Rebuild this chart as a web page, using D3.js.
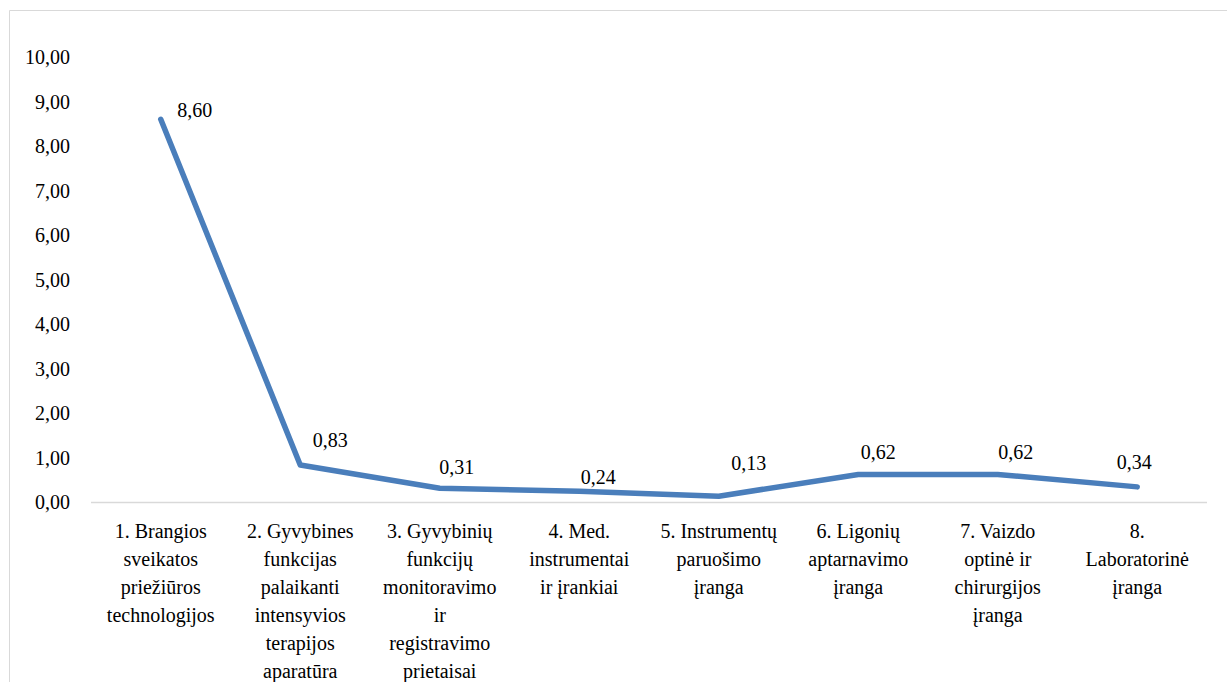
<!DOCTYPE html>
<html><head><meta charset="utf-8">
<script src="https://cdn.jsdelivr.net/npm/d3@7"></script>
</head><body style="margin:0;background:#fff"><svg id="c" width="1227" height="682"></svg>
<script>
const categories = [
  ["1. Brangios","sveikatos","priežiūros","technologijos"],
  ["2. Gyvybines","funkcijas","palaikanti","intensyvios","terapijos","aparatūra"],
  ["3. Gyvybinių","funkcijų","monitoravimo","ir","registravimo","prietaisai"],
  ["4. Med.","instrumentai","ir įrankiai"],
  ["5. Instrumentų","paruošimo","įranga"],
  ["6. Ligonių","aptarnavimo","įranga"],
  ["7. Vaizdo","optinė ir","chirurgijos","įranga"],
  ["8.","Laboratorinė","įranga"]
];
const values = [8.60, 0.83, 0.31, 0.24, 0.13, 0.62, 0.62, 0.34];
const yTicks = [0,1,2,3,4,5,6,7,8,9,10];
const labelDx = [34, 30, 17, 19, 30, 20, 18, -3];
const labelDy = [-9, -25, -21, -14, -33, -22, -22, -25];

const FONT = "Times New Roman";
const FS = 20;
const svg = d3.select("#c");
const fmt = v => v.toFixed(2).replace(".", ",");
const x = d3.scaleBand().domain(d3.range(categories.length)).range([91, 1207]);
const y = d3.scaleLinear().domain([0, 10]).range([502, 57]);

svg.append("path").attr("d","M9.5,682 V10.5 H1227").attr("fill","none").attr("stroke","#d9d9d9").attr("stroke-width",1);

svg.append("g").selectAll("text").data(yTicks).join("text")
  .attr("font-family",FONT).attr("font-size",FS).attr("text-anchor","end")
  .attr("x",70).attr("y",d=>y(d)+7).text(fmt);

svg.append("line").attr("x1",x.range()[0]).attr("x2",x.range()[1]).attr("y1",y(0)+0.5).attr("y2",y(0)+0.5)
  .attr("stroke","#d9d9d9").attr("stroke-width",1.5);

categories.forEach((lines,i)=>{
  const cx = x(i)+x.bandwidth()/2;
  lines.forEach((l,j)=>svg.append("text").attr("font-family",FONT).attr("font-size",FS)
    .attr("text-anchor","middle").attr("x",cx).attr("y",538+j*28).text(l));
});

const line = d3.line().x((d,i)=>x(i)+x.bandwidth()/2).y(d=>y(d));
svg.append("path").datum(values).attr("d",line).attr("fill","none")
  .attr("stroke","#4a7ebb").attr("stroke-width",5.5).attr("stroke-linejoin","round").attr("stroke-linecap","round");

svg.append("g").selectAll("text").data(values).join("text")
  .attr("text-anchor","middle").attr("font-family",FONT).attr("font-size",FS)
  .attr("x",(d,i)=>x(i)+x.bandwidth()/2+labelDx[i])
  .attr("y",(d,i)=>y(d)+labelDy[i]+7)
  .text(fmt);
</script></body></html>
